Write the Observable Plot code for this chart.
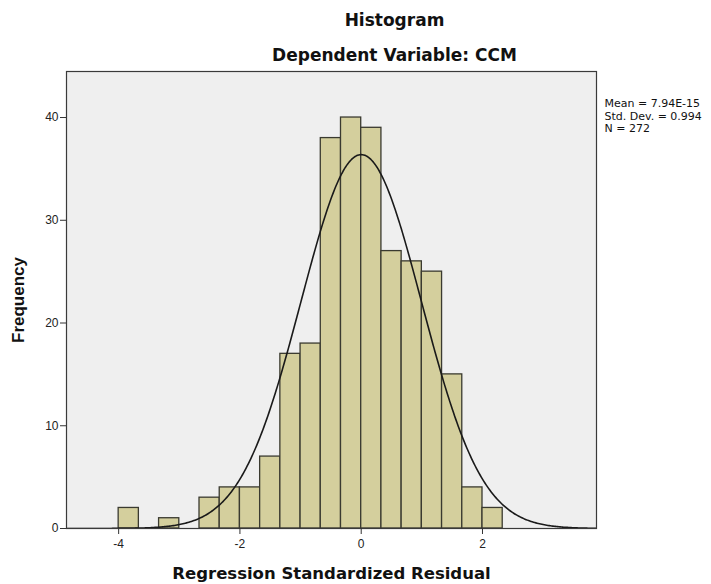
<!DOCTYPE html>
<html><head><meta charset="utf-8">
<script src="https://cdn.jsdelivr.net/npm/d3@7"></script>
<script src="https://cdn.jsdelivr.net/npm/@observablehq/plot@0.6"></script>
<style>body{margin:0;background:#fff} svg{display:block}</style>
</head><body><div id="chart"></div>
<script>
// Histogram bins (lower edges, width 1/3) and counts
const binWidth = 1 / 3;
const binLower = [-4, -11/3, -10/3, -3, -8/3, -7/3, -2, -5/3, -4/3, -1, -2/3, -1/3, 0, 1/3, 2/3, 1, 4/3, 5/3, 2];
const counts   = [ 2,  0,     1,     0,  3,    4,    4,  7,    17,   18, 38,   40,   39, 27,  26,  25, 15,  4,   2];
const stats = {mean: 7.94e-15, sd: 0.994, n: 272};
const legendLines = ["Mean = 7.94E-15", "Std. Dev. = 0.994", "N = 272"];
const titleText = "Histogram";
const subtitleText = "Dependent Variable: CCM";
const xTitle = "Regression Standardized Residual";
const yTitle = "Frequency";
const xTicks = [-4, -2, 0, 2];
const yTicks = [0, 10, 20, 30, 40];

const bins = binLower.map((x0, i) => ({x0, x1: x0 + binWidth, count: counts[i]})).filter(d => d.count > 0);
const xDomain = [-4.86, 3.88];
const curve = d3.range(xDomain[0], xDomain[1] + 0.001, 0.02).map(x => ({
  x,
  y: stats.n * binWidth * Math.exp(-0.5 * ((x - stats.mean) / stats.sd) ** 2) / (stats.sd * Math.sqrt(2 * Math.PI))
}));

const wideBold = {fontFamily: "'DejaVu Sans', sans-serif", fontWeight: "bold", fill: "#111"};
const chart = Plot.plot({
  width: 711, height: 584,
  marginLeft: 66, marginRight: 115, marginTop: 71, marginBottom: 56,
  style: {fontFamily: "'Liberation Sans', Arial, sans-serif", fontSize: "12px", background: "#fff", color: "#222"},
  x: {domain: xDomain},
  y: {domain: [0, 44.48]},
  marks: [
    Plot.frame({fill: "#efefef", stroke: "none"}),
    Plot.rectY(bins, {x1: "x0", x2: "x1", y: "count", fill: "#d4cf9d", stroke: "#3a3a30", strokeWidth: 1.3}),
    Plot.line(curve, {x: "x", y: "y", stroke: "#1a1a1a", strokeWidth: 1.6, clip: true}),
    Plot.frame({stroke: "#3a3a3a", strokeWidth: 1.2}),
    Plot.axisY({ticks: yTicks, tickSize: 6, tickPadding: 2, label: null, fontSize: 12, stroke: "#333", tickFormat: d => String(d)}),
    Plot.axisX({ticks: xTicks, tickSize: 6, tickPadding: 5, label: null, fontSize: 12, stroke: "#333", tickFormat: d => String(d)}),
    Plot.text([titleText], {frameAnchor: "top", dx: 63, dy: -51, lineAnchor: "middle", fontSize: 17, ...wideBold}),
    Plot.text([subtitleText], {frameAnchor: "top", dx: 63, dy: -16, lineAnchor: "middle", fontSize: 17, ...wideBold}),
    Plot.text([xTitle], {frameAnchor: "bottom", dy: 45, lineAnchor: "middle", fontSize: 16.5, ...wideBold}),
    Plot.text([yTitle], {frameAnchor: "left", dx: -48, rotate: -90, textAnchor: "middle", lineAnchor: "middle", fontSize: 17, fontFamily: "'Liberation Sans', Arial, sans-serif", fontWeight: "bold", fill: "#111"}),
    Plot.text([legendLines.join("\n")], {frameAnchor: "top-right", dx: 8, dy: 27, textAnchor: "start", lineAnchor: "top", lineHeight: 1.12, fontSize: 11, fontFamily: "'DejaVu Sans', sans-serif", fill: "#111"})
  ]
});
document.getElementById("chart").append(chart);
</script>
</body></html>
